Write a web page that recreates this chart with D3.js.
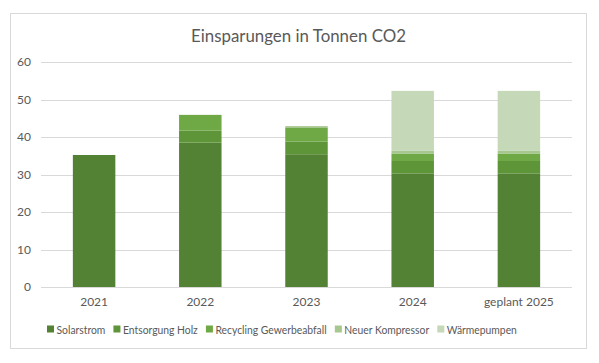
<!DOCTYPE html>
<html><head><meta charset="utf-8">
<script src="https://cdn.jsdelivr.net/npm/d3@7"></script>
<style>
html,body{margin:0;padding:0;background:#fff;}
text{font-family:Lato,"Open Sans",sans-serif;fill:#595959;}
</style></head>
<body><svg id="c" width="599" height="363"></svg>
<script>
const categories = ["2021","2022","2023","2024","geplant 2025"];
const seriesNames = ["Solarstrom","Entsorgung Holz","Recycling Gewerbeabfall","Neuer Kompressor","Wärmepumpen"];
const solarstrom = [35.2, 38.5, 35.4, 30.3, 30.3];
const entsorgungHolz = [0, 3.2, 3.4, 3.3, 3.3];
const recycling = [0, 4.2, 3.6, 2.0, 2.0];
const kompressor = [0, 0, 0.5, 0.7, 0.7];
const waermepumpen = [0, 0, 0, 16.0, 16.0];
const yTicks = [0, 10, 20, 30, 40, 50, 60];
const colors = ["#548235", "#5e9538", "#6ea945", "#a6c78e", "#c5d9b9"];
const title = "Einsparungen in Tonnen CO2";

const seriesValues = [solarstrom, entsorgungHolz, recycling, kompressor, waermepumpen];
const rows = categories.map((c, i) => {
  const r = {cat: c};
  seriesNames.forEach((s, j) => r[s] = seriesValues[j][i]);
  return r;
});

const svg = d3.select("#c");
svg.append("rect").attr("x", 10.5).attr("y", 13.5).attr("width", 576).attr("height", 335)
  .attr("fill", "#fff").attr("stroke", "#d9d9d9").attr("stroke-width", 1);

const x = d3.scaleBand().domain(categories).range([41, 572]).paddingInner(0.6).paddingOuter(0.3);
const y = d3.scaleLinear().domain([0, 60]).range([287, 62]);

// gridlines
svg.append("g").selectAll("line").data(yTicks).join("line")
  .attr("x1", 41).attr("x2", 572)
  .attr("y1", d => Math.round(y(d)) + 0.5).attr("y2", d => Math.round(y(d)) + 0.5)
  .attr("stroke", "#d9d9d9").attr("stroke-width", 1);

// y axis labels
const yAxis = d3.axisLeft(y).tickValues(yTicks).tickSize(0).tickPadding(0);
const gy = svg.append("g").attr("transform", "translate(31,0)").call(yAxis);
gy.select(".domain").remove();
gy.selectAll("text").style("font-size", "12px").attr("fill", "#595959").style("font-family", "Lato, sans-serif");

// bars
const stack = d3.stack().keys(seriesNames);
const stacked = stack(rows);
svg.append("g").selectAll("g").data(stacked).join("g")
  .attr("fill", (d, i) => colors[i])
  .selectAll("rect").data(d => d).join("rect")
  .attr("x", d => x(d.data.cat))
  .attr("width", x.bandwidth())
  .attr("y", d => y(d[1]))
  .attr("height", d => Math.max(0, y(d[0]) - y(d[1])));

// x axis labels
const xAxis = d3.axisBottom(x).tickSize(0).tickPadding(0);
const gx = svg.append("g").attr("transform", "translate(0,297)").call(xAxis);
gx.select(".domain").remove();
gx.selectAll("text").style("font-size", "12px").attr("fill", "#595959").style("font-family", "Lato, sans-serif");

// title (fit to target width)
const tt = svg.append("text").attr("x", 298.5).attr("y", 42).attr("text-anchor", "middle")
  .style("font-size", "18px").text(title);
const tw = tt.node().getComputedTextLength();
tt.style("font-size", (18 * 215 / tw) + "px");

// legend (12px text, condensed horizontally to fit target span)
const lg = svg.append("g");
const legendStart = 47, legendEnd = 517, sq = 7, sqGap = 2.5, itemGap = 8;
const texts = seriesNames.map(s => lg.append("text").style("font-size", "12px").text(s));
const widths = texts.map(t => t.node().getComputedTextLength());
const avail = (legendEnd - legendStart) - seriesNames.length * (sq + sqGap) - (seriesNames.length - 1) * itemGap;
const sx = avail / d3.sum(widths);
let lx = legendStart;
texts.forEach((t, i) => {
  lg.append("rect").attr("x", lx).attr("y", 325.5).attr("width", sq).attr("height", sq).attr("fill", colors[i]);
  t.attr("transform", `translate(${lx + sq + sqGap},333.5) scale(${sx},1)`);
  lx += sq + sqGap + widths[i] * sx + itemGap;
});
</script></body></html>
